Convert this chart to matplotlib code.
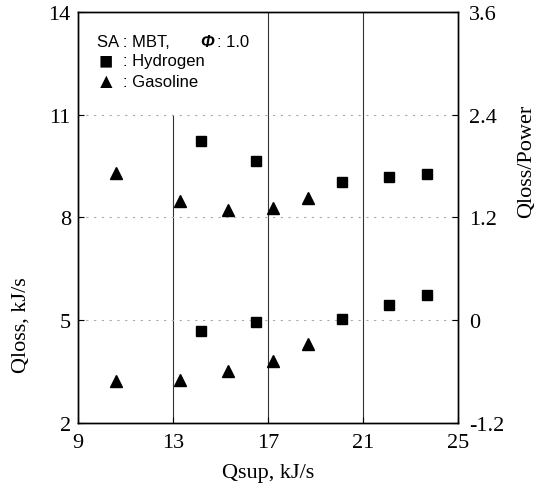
import matplotlib
matplotlib.use("Agg")
from matplotlib import pyplot as plt

# Qsup, kJ/s
h2_qsup = [14.2, 16.5, 20.1, 22.1, 23.7]
gas_qsup = [10.6, 13.3, 15.3, 17.2, 18.7]

# Qloss, kJ/s (left axis)
h2_qloss = [4.69, 4.95, 5.04, 5.45, 5.74]
gas_qloss = [3.23, 3.26, 3.52, 3.81, 4.31]

# Qloss/Power (right axis)
h2_ratio = [2.09, 1.86, 1.62, 1.67, 1.71]
gas_ratio = [1.72, 1.39, 1.29, 1.31, 1.43]

x_ticks = [9, 13, 17, 21, 25]
left_ticks = [2, 5, 8, 11, 14]
right_ticks = [-1.2, 0, 1.2, 2.4, 3.6]
right_labels = ["-1.2", "0", "1.2", "2.4", "3.6"]

serif = "Liberation Serif"
sans = ["Liberation Sans", "DejaVu Sans"]

fig = plt.figure(figsize=(5.44, 4.85), dpi=100)
ax = fig.add_axes([0.143, 0.126, 0.699, 0.847])
ax2 = ax.twinx()

ax.set_xlim(9, 25)
ax.set_ylim(2, 14)
ax2.set_ylim(-1.2, 3.6)

# grid: solid verticals, dotted horizontals
for xv in x_ticks[1:-1]:
    top = 11 if xv == 13 else 14
    ax.plot([xv, xv], [2, top], color="#333333", lw=0.8, zorder=1)
for yv in left_ticks[1:-1]:
    ax.axhline(yv, color="#aaaaaa", lw=0.8, ls=(0, (2, 5)), zorder=1)

ax.plot(h2_qsup, h2_qloss, ls="none", marker="s", ms=7, color="black", zorder=3)
ax.plot(gas_qsup, gas_qloss, ls="none", marker="^", ms=9, color="black", zorder=3)
ax2.plot(h2_qsup, h2_ratio, ls="none", marker="s", ms=7, color="black", zorder=3)
ax2.plot(gas_qsup, gas_ratio, ls="none", marker="^", ms=9, color="black", zorder=3)

ax.set_xticks(x_ticks)
ax.set_yticks(left_ticks)
ax2.set_yticks(right_ticks)
ax2.set_yticklabels(right_labels)

for a in (ax, ax2):
    a.tick_params(direction="in", length=4, width=0.8, labelsize=16)
    for lab in a.get_xticklabels() + a.get_yticklabels():
        lab.set_fontfamily(serif)
    for s in a.spines.values():
        s.set_linewidth(1.0)
ax.tick_params(axis="x", pad=7)
ax.tick_params(axis="y", pad=5)
ax2.tick_params(axis="y", pad=8)

ax.set_xlabel("Qsup, kJ/s", fontsize=16, fontfamily=serif, labelpad=8)
ax.set_ylabel("Qloss, kJ/s", fontsize=16, fontfamily=serif)
ax.yaxis.set_label_coords(-0.125, 0.24)
ax2.set_ylabel("Qloss/Power", fontsize=16, fontfamily=serif)
ax2.yaxis.set_label_coords(1.155, 0.64)

# legend block
kw = dict(transform=ax.transAxes, fontsize=12, family=sans, va="center")
ax.text(0.05, 0.929, "SA : MBT,", **kw)
ax.text(0.322, 0.929, "Φ", style="italic", weight="bold", **kw)
ax.text(0.366, 0.929, ": 1.0", **kw)
ax.text(0.074, 0.881, "■", ha="center", fontsize=17, transform=ax.transAxes,
        family=sans, va="center")
ax.text(0.12, 0.881, ": Hydrogen", **kw)
ax.text(0.074, 0.830, "▲", ha="center", fontsize=15, transform=ax.transAxes,
        family=sans, va="center")
ax.text(0.12, 0.830, ": Gasoline", **kw)

fig.savefig("out.png", dpi=100)
